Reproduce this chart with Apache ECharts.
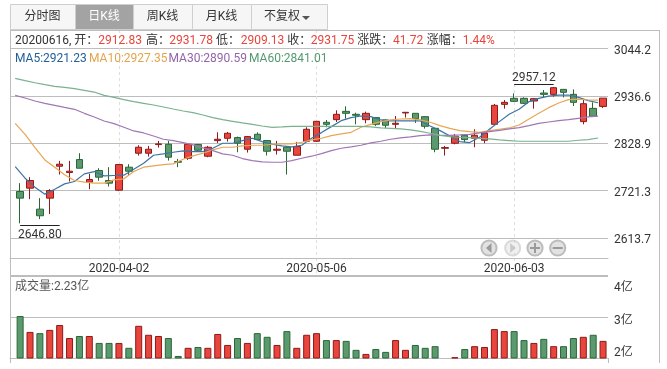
<!DOCTYPE html>
<html><head><meta charset="utf-8">
<style>html,body{margin:0;padding:0;background:#fff}#c{width:667px;height:369px}</style>
<script src="https://cdn.jsdelivr.net/npm/echarts@6/dist/echarts.min.js"></script>
</head><body><div id="c"></div>
<script>
const dates=['2020-03-19','2020-03-20','2020-03-23','2020-03-24','2020-03-25','2020-03-26','2020-03-27','2020-03-30','2020-03-31','2020-04-01','2020-04-02','2020-04-03','2020-04-07','2020-04-08','2020-04-09','2020-04-10','2020-04-13','2020-04-14','2020-04-15','2020-04-16','2020-04-17','2020-04-20','2020-04-21','2020-04-22','2020-04-23','2020-04-24','2020-04-27','2020-04-28','2020-04-29','2020-04-30','2020-05-06','2020-05-07','2020-05-08','2020-05-11','2020-05-12','2020-05-13','2020-05-14','2020-05-15','2020-05-18','2020-05-19','2020-05-20','2020-05-21','2020-05-22','2020-05-25','2020-05-26','2020-05-27','2020-05-28','2020-05-29','2020-06-01','2020-06-02','2020-06-03','2020-06-04','2020-06-05','2020-06-08','2020-06-09','2020-06-10','2020-06-11','2020-06-12','2020-06-15','2020-06-16'];
const opens=[2719.3,2726.9,2679.2,2704.2,2776.9,2762.5,2792,2740.5,2767,2744.3,2722.4,2774.6,2806.4,2806.4,2826.1,2826.8,2787.4,2795,2826.1,2799.6,2835.1,2840.4,2842,2815.5,2849.5,2835.1,2813.2,2820,2801.8,2833.6,2833.6,2876.8,2882.8,2901.7,2894.9,2882.8,2887.4,2882.1,2872.2,2898,2897.2,2889.6,2863.1,2817.7,2829.1,2847.2,2840.4,2835.9,2872.2,2917.6,2931.3,2931.3,2925.2,2943.4,2940.3,2951.7,2940.3,2878.3,2908.5,2912.83];
const closes=[2704.2,2744.3,2664.1,2721.6,2781.4,2765.5,2772.3,2746.6,2751.9,2738.3,2780.6,2765.5,2820,2815.5,2827.6,2797.3,2785.9,2826.8,2813.2,2820,2838.2,2851.8,2829.1,2844.2,2837.4,2810.9,2815.5,2810.9,2821.5,2860.9,2879,2872.2,2894.9,2897.2,2892.7,2897.2,2872.2,2870,2874.5,2899.5,2885.1,2867.7,2815.5,2819.2,2845,2837.4,2847.2,2852.5,2915.4,2922.2,2924.4,2919.9,2930.5,2940.3,2955.5,2944.9,2922.2,2919.1,2890.4,2931.75];
const lows=[2646.8,2701.9,2656.5,2667.9,2757.9,2742,2772.3,2724.6,2743.6,2730.7,2720.1,2754.9,2801.1,2798.8,2819.2,2789.7,2774.6,2791.2,2809.4,2797.3,2829.8,2832.9,2808.6,2807.9,2837.4,2801.1,2803.4,2757.9,2801.8,2833.6,2832.1,2865.4,2877.5,2885.1,2872.2,2874.5,2868.4,2863.1,2863.1,2887.4,2875.3,2862.4,2808.6,2801.1,2826.8,2831.3,2820,2829.1,2872.2,2907.8,2923.7,2918.4,2907.8,2933.5,2935,2933.5,2913.8,2872.2,2890.4,2909.13];
const highs=[2738.3,2751.9,2704.2,2724.6,2789,2789,2806.4,2759.4,2772.3,2774.6,2780.6,2781.4,2824.5,2823,2834.4,2834.4,2793.5,2826.8,2827.6,2823,2854,2854.8,2844.2,2845.7,2854,2836.6,2834.4,2821.5,2832.1,2865.4,2879,2882,2904,2913.1,2898.7,2901,2888.9,2883.6,2891.1,2899.5,2897.2,2891.1,2863.1,2823,2850.3,2848.8,2860.9,2854.8,2918.4,2927.5,2942.6,2933.5,2932,2950.2,2957.12,2952.4,2951.7,2927.5,2922.2,2931.78];
const ma5=[2776.1,2749.6,2729.2,2713.3,2724.6,2736.7,2742,2759.4,2764.7,2754.9,2755.7,2756.4,2770,2783.7,2801.8,2804.9,2808.6,2811.7,2810.2,2810.2,2817.7,2829.1,2829.1,2835.1,2840.4,2832.9,2826.8,2823,2820.8,2824.5,2840.4,2853.3,2866.9,2880.5,2887.4,2891.1,2889.6,2882.1,2879.8,2879.8,2879.8,2879.8,2868.4,2857.8,2845.7,2832.9,2830.6,2842.7,2860.9,2878.3,2894.9,2906.3,2923.7,2931.3,2936.5,2938.8,2938.8,2933.5,2926,2921.23];
const ma10=[2874.5,2849.5,2819.2,2791.2,2774.6,2757.2,2744.3,2740.5,2738.3,2738.3,2745.8,2748.1,2764.7,2774.6,2777.6,2780.6,2782.2,2792.8,2800.3,2806.4,2813.9,2820,2820,2823,2824.5,2824.5,2826.8,2827.6,2827.6,2831.4,2836.6,2840.4,2846.5,2850.3,2854,2865.4,2872.2,2878.3,2882.1,2884.3,2885.1,2882.1,2876.8,2869.2,2863.1,2857.8,2855.6,2854,2857.8,2860.9,2863.9,2870.7,2884.3,2897.2,2910.1,2920.7,2928.2,2929.7,2927.5,2927.35];
const ma30=[2938.1,2932,2925.2,2919.9,2915.4,2910.8,2906.3,2897.2,2888.9,2879.8,2873.7,2865.4,2857.1,2852.5,2845.7,2838.2,2835.1,2830.6,2825.3,2818.5,2812.4,2804.9,2801.8,2794.3,2789.7,2786.7,2785.9,2785.9,2789.7,2795,2799.6,2805.6,2812.4,2817.7,2820.8,2824.5,2829.8,2833.6,2838.2,2841.2,2843.5,2846.5,2848,2847.2,2847.2,2848,2849.5,2852.5,2855.6,2858.6,2861.6,2864.6,2869.2,2874.5,2877.5,2880.5,2882.8,2885.8,2888.9,2890.59];
const ma60=[2976.7,2971.4,2966.8,2962.3,2958.5,2956.2,2953.2,2949.4,2945.6,2938.1,2933.5,2928.2,2923.7,2919.9,2916.1,2911.6,2907,2902.5,2898.7,2893.4,2887.4,2882.8,2879,2875.3,2872.2,2868.4,2865.4,2866.2,2867.7,2867.7,2867.7,2867.7,2867.7,2867.7,2867.7,2867.7,2866.2,2863.9,2863.1,2861.6,2859.4,2856.3,2851.8,2847.2,2844.2,2842.7,2841.9,2840.4,2838.9,2836.6,2835.1,2833.6,2833.6,2833.6,2833.6,2833.6,2833.6,2835.9,2837.4,2841.01];
const volumes=[3.03,2.64,2.61,2.69,2.81,2.49,2.54,2.54,2.37,2.37,2.37,2.25,2.79,2.57,2.54,2.49,2.05,2.25,2.27,2.25,2.59,2.32,2.49,2.37,2.61,2.52,2.32,2.66,2.25,2.57,2.61,2.44,2.44,2.42,2.2,2.1,2.22,2.15,2.44,2.2,2.32,2.25,2.29,2.01,2.02,2.22,2.29,2.27,2.71,2.66,2.66,2.44,2.37,2.47,2.29,2.29,2.49,2.52,2.57,2.42];
const priceTicks=[2613.7,2721.3,2828.9,2936.6,3044.2];
const tabs=['分时图','日K线','周K线','月K线','不复权'];
const quoteText=['20200616, 开：','2912.83','高：','2931.78','低：','2909.13','收：','2931.75','涨跌：','41.72','涨幅：','1.44%'];
const maText=['MA5:2921.23','MA10:2927.35','MA30:2890.59','MA60:2841.01'];

const FF='Roboto, "Noto Sans CJK SC", sans-serif';
const RED='#e8453c',REDB='#8e1a1a',GRN='#5b9a6f',GRNB='#2a6735',LINE='#bdbdbd';
const S=0.4395, pMax=2936.6+66/S, pMin=2936.6-162/S, pMinD=2936.6-180.5/S;
const L=10,R=608,DL=15.2,DW=592.8;

const candles=dates.map((d,i)=>[opens[i],closes[i],lows[i],highs[i]]);
const volBars=volumes.map((v,i)=>({value:v,itemStyle:closes[i]>=opens[i]?{color:RED,borderColor:REDB,borderWidth:1}:{color:GRN,borderColor:GRNB,borderWidth:1}}));
const hideAxis={show:false};

const tabX=[10,75,133,192,251,327];
const g=[];
tabs.forEach((t,i)=>{
  const sel=i===1;
  g.push({type:'rect',shape:{x:tabX[i]+.5,y:4.5,width:tabX[i+1]-tabX[i],height:25},style:{fill:sel?'#a3a3a3':'#f6f6f6',stroke:'#cfcfcf',lineWidth:1},z:5});
  g.push({type:'text',x:i===4?tabX[i]+13:(tabX[i]+tabX[i+1])/2,y:17,z:6,style:{text:t,fill:sel?'#fff':'#333',font:'12px '+FF,align:i===4?'left':'center',verticalAlign:'middle'}});
});
g.push({type:'polygon',z:6,shape:{points:[[302,16],[310,16],[306,20]]},style:{fill:'#555'}});
[[10.5,30,10.5,363],[10,30.5,659,30.5],[659.5,30,659.5,363],[10,276.5,608,276.5],[10,275.5,608,275.5]].forEach(p=>g.push({type:'line',z:1,shape:{x1:p[0],y1:p[1],x2:p[2],y2:p[3]},style:{stroke:LINE,lineWidth:1}}));
g.push({type:'line',z:1,shape:{x1:608.5,y1:358,x2:608.5,y2:363},style:{stroke:LINE,lineWidth:1}});
const quoteX=[15,98.3,146,169.3,216,240.7,287.3,310.7,357.3,393,426.7,462.7];
quoteText.forEach((t,i)=>g.push({type:'text',x:quoteX[i],y:40.5,z:6,style:{text:t,fill:i%2?RED:'#333',font:'12px '+FF,verticalAlign:'middle'}}));
const maX=[15,89,168.5,249],maC=['#23609a','#e3a44e','#9563a9','#549a6e'];
maText.forEach((t,i)=>g.push({type:'text',x:maX[i],y:58.5,z:6,style:{text:t,fill:maC[i],font:'12px '+FF,verticalAlign:'middle'}}));
g.push({type:'text',x:15,y:287,z:6,style:{text:'成交量:2.23亿',fill:'#555',font:'12px '+FF,verticalAlign:'middle'}});
const by=248;
[[489,1],[512.7,.5],[535,1],[557.7,1]].forEach((b,i)=>{
  g.push({type:'circle',z:8,shape:{cx:b[0],cy:by,r:7.6},style:{fill:'#e2e2e2',stroke:'#bcbcbc',lineWidth:2,opacity:b[1]}});
  const c='#9a9a9a',x=b[0];
  if(i===0)g.push({type:'polygon',z:9,shape:{points:[[x+2.5,by-5],[x+2.5,by+5],[x-3,by]]},style:{fill:c}});
  if(i===1)g.push({type:'polygon',z:9,shape:{points:[[x-2.5,by-5],[x-2.5,by+5],[x+3,by]]},style:{fill:c,opacity:.45}});
  if(i===2)g.push({type:'rect',z:9,shape:{x:x-5,y:by-1,width:10,height:2},style:{fill:c}},{type:'rect',z:9,shape:{x:x-1,y:by-5,width:2,height:10},style:{fill:c}});
  if(i===3)g.push({type:'rect',z:9,shape:{x:x-5,y:by-1,width:10,height:2},style:{fill:c}});
});

const chart=echarts.init(document.getElementById('c'),null,{renderer:'canvas'});
const mkLine=(name,data,color)=>({name,type:'line',xAxisIndex:2,yAxisIndex:1,data,symbol:'none',smooth:false,z:4,lineStyle:{color,width:1.2},silent:true});
const volLabelStyle=(lh)=>({color:'#333',fontSize:12,fontFamily:FF,lineHeight:lh});
chart.setOption({
  animation:false,backgroundColor:'#fff',
  textStyle:{fontFamily:FF},
  grid:[
    {left:L,width:R-L,top:30,height:228},
    {left:DL,width:DW,top:30,height:246.5},
    {left:L,width:R-L,top:276.5,height:81.5},
    {left:DL,width:DW,top:276.5,height:81.5}
  ],
  xAxis:[
    {gridIndex:0,type:'value',min:0,max:1,axisLine:{show:true,onZero:false,lineStyle:{color:LINE}},axisTick:hideAxis,axisLabel:hideAxis,splitLine:hideAxis},
    {gridIndex:1,type:'category',data:dates,boundaryGap:true,axisLine:hideAxis,axisTick:{show:false},
      axisLabel:{inside:true,margin:1,interval:(i)=>i%20===10,color:'#333',fontSize:12,fontFamily:FF,hideOverlap:false},
      splitLine:{show:true,alignWithLabel:true,interval:(i)=>i%20===10,lineStyle:{color:'#dedede',type:[3,3],width:1}}},
    {gridIndex:1,type:'category',data:dates.concat(['']),boundaryGap:false,show:false},
    {gridIndex:2,type:'value',min:0,max:1,axisLine:{show:true,onZero:false,lineStyle:{color:LINE}},axisTick:hideAxis,axisLabel:hideAxis,splitLine:hideAxis},
    {gridIndex:3,type:'category',data:dates,boundaryGap:true,show:false}
  ],
  yAxis:[
    {gridIndex:0,type:'value',position:'right',min:pMin,max:pMax,
      axisLine:{show:true,lineStyle:{color:LINE}},
      axisTick:{show:true,length:5,customValues:priceTicks,lineStyle:{color:LINE}},
      axisLabel:{customValues:priceTicks,margin:6,verticalAlign:'top',lineHeight:4,color:'#333',fontSize:12,fontFamily:FF,formatter:v=>v.toFixed(1)},
      splitLine:{show:true,lineStyle:{color:LINE,width:1}}},
    {gridIndex:1,type:'value',min:pMinD,max:pMax,show:false},
    {gridIndex:2,type:'value',position:'right',min:2,max:4,interval:1,
      axisLine:{show:true,lineStyle:{color:LINE}},
      axisTick:{show:true,length:5,lineStyle:{color:LINE}},
      axisLabel:{margin:6,color:'#333',fontSize:12,fontFamily:FF,verticalAlign:'top',verticalAlignMinLabel:'bottom',
        formatter:v=>(v===4?'{t|':v===3?'{m|':'{b|')+v+'亿}',
        rich:{t:volLabelStyle(23),m:volLabelStyle(7),b:volLabelStyle(10)}},
      splitLine:{show:true,lineStyle:{color:LINE,width:1}}},
    {gridIndex:3,type:'value',min:2,max:4,interval:1,show:false}
  ],
  series:[
    {type:'candlestick',xAxisIndex:1,yAxisIndex:1,data:candles,barWidth:7,z:3,silent:true,
      itemStyle:{color:RED,color0:GRN,borderColor:REDB,borderColor0:GRNB,borderWidth:1},
      markLine:{silent:true,symbol:'none',animation:false,
        lineStyle:{color:'#222',type:'solid',width:1},
        label:{color:'#333',fontSize:12,fontFamily:FF,formatter:'{b}'},
        data:[
          [{name:'2646.80',coord:[0,2641.6],label:{position:'insideMiddleBottom',distance:3}},{coord:[4.25,2641.6]}],
          [{name:'2957.12',coord:[49.75,2963],label:{position:'insideMiddleTop',distance:0}},{coord:[54,2963]}]
        ]}},
    mkLine('MA5',ma5,'#3a74a4'),
    mkLine('MA10',ma10,'#e8a655'),
    mkLine('MA30',ma30,'#a076b4'),
    mkLine('MA60',ma60,'#7ab190'),
    {type:'bar',xAxisIndex:4,yAxisIndex:3,data:volBars,barWidth:7,silent:true,z:3}
  ],
  graphic:g
});
</script></body></html>
